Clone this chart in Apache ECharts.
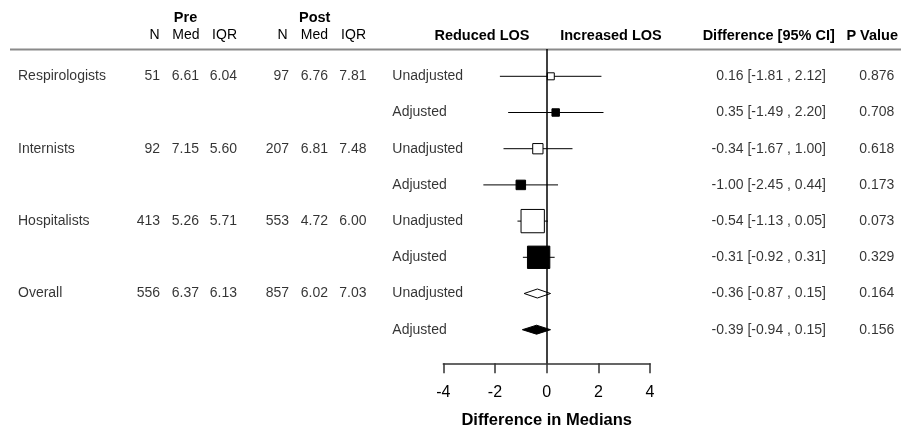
<!DOCTYPE html>
<html>
<head>
<meta charset="utf-8">
<script src="https://cdn.jsdelivr.net/npm/echarts@6/dist/echarts.min.js"></script>
<style>
html,body{margin:0;padding:0;background:#fff;}
#chart{width:901px;height:428px;}
</style>
</head>
<body>
<div id="chart"></div>
<script>
// ---------- data ----------
const groups   = ['Respirologists', 'Internists', 'Hospitalists', 'Overall'];
const preN     = ['51', '92', '413', '556'];
const preMed   = ['6.61', '7.15', '5.26', '6.37'];
const preIQR   = ['6.04', '5.60', '5.71', '6.13'];
const postN    = ['97', '207', '553', '857'];
const postMed  = ['6.76', '6.81', '4.72', '6.02'];
const postIQR  = ['7.81', '7.48', '6.00', '7.03'];
const models   = ['Unadjusted', 'Adjusted', 'Unadjusted', 'Adjusted', 'Unadjusted', 'Adjusted', 'Unadjusted', 'Adjusted'];
const estimate = [0.16, 0.35, -0.34, -1.00, -0.54, -0.31, -0.36, -0.39];
const lower    = [-1.81, -1.49, -1.67, -2.45, -1.13, -0.92, -0.87, -0.94];
const upper    = [2.12, 2.20, 1.00, 0.44, 0.05, 0.31, 0.15, 0.15];
const pValues  = ['0.876', '0.708', '0.618', '0.173', '0.073', '0.329', '0.164', '0.156'];
const isSummary = [false, false, false, false, false, false, true, true];
const xTicks   = [-4, -2, 0, 2, 4];

// ---------- layout ----------
const FONT = '"Liberation Sans", Arial, Helvetica, sans-serif';
const ROW0 = 76.3, ROWH = 36.2, TOP = 49, AXISY = 363.3, H = 428, W = 901;
const yMin = (TOP - ROW0) / ROWH, yMax = (AXISY - ROW0) / ROWH;
const BOX_K = 27.5;

const groupRows = groups.map((g, i) => i * 2);
const rows = models.map((m, i) => i);

function textSeries(xPos, rowIdx, texts, align) {
  return {
    type: 'scatter', xAxisIndex: 1, yAxisIndex: 1, symbolSize: 0, silent: true,
    data: rowIdx.map((r) => [xPos, r]),
    label: {
      show: true, position: align === 'right' ? 'left' : 'right', distance: 0,
      formatter: p => texts[p.dataIndex],
      color: '#000', fontSize: 14, fontFamily: FONT
    }
  };
}

const forestData = estimate.map((e, i) => [e, lower[i], upper[i], i, isSummary[i] ? 1 : 0, models[i] === 'Adjusted' ? 1 : 0]);

const option = {
  backgroundColor: '#fff',
  animation: false,
  grid: [
    { left: 443.3, right: W - 650, top: TOP, bottom: H - AXISY, containLabel: false, outerBoundsMode: 'none' },
    { left: 0, right: 0, top: TOP, bottom: H - AXISY, containLabel: false, outerBoundsMode: 'none' }
  ],
  xAxis: [
    {
      gridIndex: 0, type: 'value', min: -4, max: 4, interval: 2,
      axisLine: { show: true, onZero: false, lineStyle: { color: '#333', width: 1.5 } },
      axisTick: { show: true, length: 10, lineStyle: { color: '#333', width: 1.5 } },
      axisLabel: { color: '#000', fontSize: 16, fontFamily: FONT, margin: 21,
        formatter: v => xTicks.includes(v) ? String(v) : '' },
      splitLine: { show: false },
      name: 'Difference in Medians', nameLocation: 'middle', nameGap: 49,
      nameTextStyle: { color: '#000', fontSize: 16.5, fontWeight: 'bold', fontFamily: FONT }
    },
    { gridIndex: 1, type: 'value', min: 0, max: W, show: false }
  ],
  yAxis: [
    { gridIndex: 0, type: 'value', min: yMin, max: yMax, inverse: true, show: false },
    { gridIndex: 1, type: 'value', min: yMin, max: yMax, inverse: true, show: false }
  ],
  graphic: [
    { type: 'line', shape: { x1: 10, y1: 49.5, x2: W, y2: 49.5 }, style: { stroke: '#8a8a8a', lineWidth: 2 }, z: 1 },
    ...[
      ['Pre', 185.5, 18, 'center'], ['Post', 314.7, 18, 'center'],
      ['Reduced LOS', 482, 35.5, 'center'], ['Increased LOS', 611, 35.5, 'center'],
      ['Difference [95% CI]', 768.7, 35.5, 'center'], ['P Value', 898, 35.5, 'right']
    ].map(([t, x, y, a]) => ({ type: 'text', x: x, y: y,
      style: { text: t, fill: '#000', font: 'bold 14.5px ' + FONT, textAlign: a, textVerticalAlign: 'middle' } })),
    ...[
      ['N', 159.5], ['Med', 199.5], ['IQR', 237], ['N', 287.5], ['Med', 328], ['IQR', 366]
    ].map(([t, x]) => ({ type: 'text', x: x, y: 35.5,
      style: { text: t, fill: '#000', font: '14px ' + FONT, textAlign: 'right', textVerticalAlign: 'middle' } }))
  ],
  series: [
    {
      type: 'custom', xAxisIndex: 0, yAxisIndex: 0, silent: true, clip: false,
      data: forestData,
      renderItem: function (params, api) {
        const est = api.value(0), lo = api.value(1), hi = api.value(2), row = api.value(3);
        const summary = api.value(4) === 1, filled = api.value(5) === 1;
        const pE = api.coord([est, row]), pL = api.coord([lo, row]), pH = api.coord([hi, row]);
        const fill = filled ? '#000' : '#fff';
        if (summary) {
          const h = 4.5;
          return { type: 'polygon', shape: { points: [[pL[0], pE[1]], [pE[0], pE[1] - h], [pH[0], pE[1]], [pE[0], pE[1] + h]] },
            style: { fill: fill, stroke: '#000', lineWidth: 1 } };
        }
        const s = BOX_K / (hi - lo);
        return { type: 'group', children: [
          { type: 'line', shape: { x1: pL[0], y1: pE[1], x2: pH[0], y2: pE[1] }, style: { stroke: '#000', lineWidth: 1 } },
          { type: 'rect', shape: { x: pE[0] - s / 2, y: pE[1] - s / 2, width: s, height: s },
            style: { fill: fill, stroke: '#000', lineWidth: 1 } }
        ] };
      },
      markLine: {
        silent: true, symbol: ['none', 'none'], label: { show: false },
        lineStyle: { color: '#000', width: 1.5, type: 'solid' },
        data: [{ xAxis: 0 }]
      },
      z: 3
    },
    textSeries(18, groupRows, groups, 'left'),
    textSeries(160, groupRows, preN, 'right'),
    textSeries(199, groupRows, preMed, 'right'),
    textSeries(237, groupRows, preIQR, 'right'),
    textSeries(289, groupRows, postN, 'right'),
    textSeries(328, groupRows, postMed, 'right'),
    textSeries(366.5, groupRows, postIQR, 'right'),
    textSeries(392.3, rows, models, 'left'),
    textSeries(826, rows, estimate.map((e, i) => e.toFixed(2) + ' [' + lower[i].toFixed(2) + ' , ' + upper[i].toFixed(2) + ']'), 'right'),
    textSeries(894.3, rows, pValues, 'right')
  ]
};

const chart = echarts.init(document.getElementById('chart'), null, { renderer: 'canvas' });
chart.setOption(option);
</script>
</body>
</html>
